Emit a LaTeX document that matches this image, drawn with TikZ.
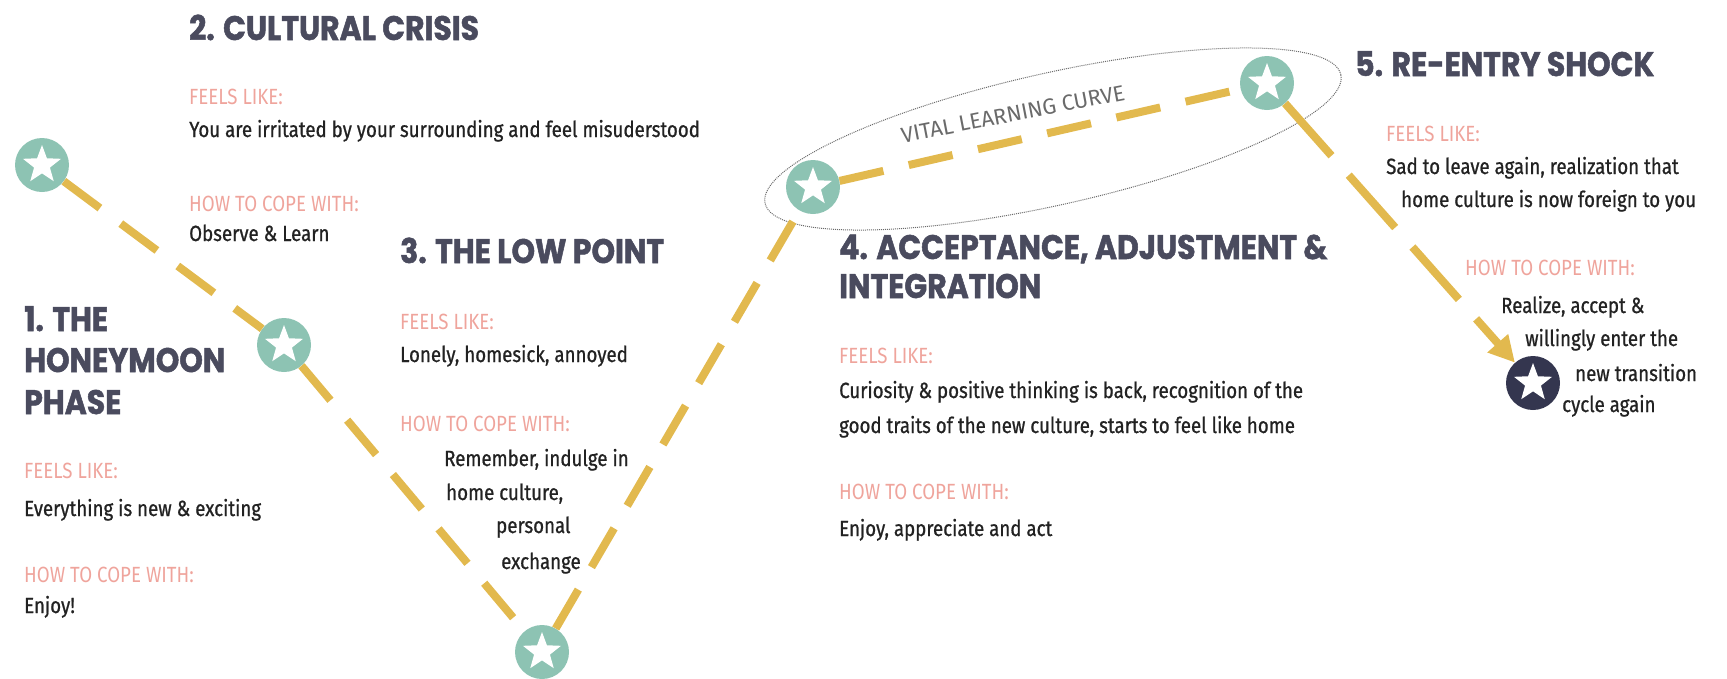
\documentclass[tikz,border=0pt]{standalone}
\usepackage{fontspec}
\usetikzlibrary{shapes.geometric,arrows.meta}
\newfontfamily\headfont{Poppins}[FakeStretch=0.88,FakeBold=1.5]
\newfontfamily\bodyfont{Fira Sans}[FakeStretch=0.85,FakeBold=0.8]
\newfontfamily\labfont{Fira Sans}[FakeStretch=0.85]
\newfontfamily\vlcfont{Fira Sans}
\definecolor{gold}{HTML}{E2B94E}
\definecolor{tealc}{HTML}{8DC3B3}
\definecolor{navyc}{HTML}{34364F}
\definecolor{headc}{HTML}{4A4B5E}
\definecolor{pinkc}{HTML}{EFA49C}
\definecolor{bodyc}{HTML}{222222}
\definecolor{grayc}{HTML}{6A6A6A}
\begin{document}
\begin{tikzpicture}[x=1pt,y=1pt,
  head/.style={anchor=base west, inner sep=0pt, font=\headfont\bfseries\fontsize{34}{40}\selectfont, text=headc},
  lab/.style={anchor=base west, inner sep=0pt, font=\labfont\fontsize{22}{26}\selectfont, text=pinkc},
  body/.style={anchor=base west, inner sep=0pt, font=\bodyfont\fontsize{22}{26}\selectfont, text=bodyc},
  stardot/.style={circle, fill=#1, minimum size=54pt, inner sep=0pt,
    path picture={\node[star, star points=5, star point ratio=2.4, fill=white, minimum size=40pt, inner sep=0pt] at (path picture bounding box.center) {};}},
  dashline/.style={draw=gold, line width=8pt, dash pattern=on 45pt off 26pt},
  ring/.style={draw=grayc, densely dotted, line width=1pt}
]
\useasboundingbox (0,0) rectangle (1727,-678);

% learning curve ellipse
\coordinate (ec) at (1053,-139);
\draw[ring, rotate around={12.6:(ec)}] (ec) ellipse [x radius=295pt, y radius=66pt];
\node[rotate=11, text=grayc, font=\vlcfont\fontsize{22}{24}\selectfont] (vlc) at (1013,-114) {VITAL LEARNING CURVE};

% stars
\node[stardot=tealc] (s1) at (42,-165) {};
\node[stardot=tealc] (s2) at (284,-345) {};
\node[stardot=tealc] (s3) at (542,-652) {};
\node[stardot=tealc] (s4) at (813,-187) {};
\node[stardot=tealc] (s5) at (1267,-83) {};
\node[stardot=navyc] (s6) at (1533,-383) {};

% connectors
\draw[dashline] (s1) -- (s2);
\draw[dashline] (s2) -- (s3);
\draw[dashline] (s3) -- (s4);
\draw[dashline] (s4) -- (s5);
\draw[dashline, dash pattern=on 70pt off 26pt, -{Triangle[length=26pt,width=26pt]}] (s5) -- (s6);

% 1
\node[head] (h1a) at (24,-331) {1. THE};
\node[head] (h1b) at (24,-372) {HONEYMOON};
\node[head] (h1c) at (24,-414) {PHASE};
\node[lab] (l1a) at (24,-478) {FEELS LIKE:};
\node[body] (b1a) at (24,-516) {Everything is new \& exciting};
\node[lab] (l1b) at (24,-582) {HOW TO COPE WITH:};
\node[body] (b1b) at (24,-613) {Enjoy!};

% 2
\node[head] (h2) at (189,-40) {2. CULTURAL CRISIS};
\node[lab] (l2a) at (189,-104) {FEELS LIKE:};
\node[body] (b2a) at (189,-137) {You are irritated by your surrounding and feel misuderstood};
\node[lab] (l2b) at (189,-211) {HOW TO COPE WITH:};
\node[body] (b2b) at (189,-241) {Observe \& Learn};

% 3
\node[head] (h3) at (400,-263) {3. THE LOW POINT};
\node[lab] (l3a) at (400,-329) {FEELS LIKE:};
\node[body] (b3a) at (400,-362) {Lonely, homesick, annoyed};
\node[lab] (l3b) at (400,-431) {HOW TO COPE WITH:};
\node[body] (b3b) at (444,-466) {Remember, indulge in};
\node[body] (b3c) at (446,-500) {home culture,};
\node[body] (b3d) at (496,-533) {personal};
\node[body] (b3e) at (501,-569) {exchange};

% 4
\node[head] (h4a) at (839,-259) {4. ACCEPTANCE, ADJUSTMENT \&};
\node[head] (h4b) at (839,-298) {INTEGRATION};
\node[lab] (l4a) at (839,-363) {FEELS LIKE:};
\node[body] (b4a) at (839,-398) {Curiosity \& positive thinking is back, recognition of the};
\node[body] (b4b) at (839,-433) {good traits of the new culture, starts to feel like home};
\node[lab] (l4b) at (839,-499) {HOW TO COPE WITH:};
\node[body] (b4c) at (839,-536) {Enjoy, appreciate and act};

% 5
\node[head] (h5) at (1355,-76) {5. RE-ENTRY SHOCK};
\node[lab] (l5a) at (1386,-141) {FEELS LIKE:};
\node[body] (b5a) at (1386,-174) {Sad to leave again, realization that};
\node[body] (b5b) at (1401,-207) {home culture is now foreign to you};
\node[lab] (l5b) at (1465,-275) {HOW TO COPE WITH:};
\node[body] (b5c) at (1501,-313) {Realize, accept \&};
\node[body] (b5d) at (1525,-346) {willingly enter the};
\node[body] (b5e) at (1575,-381) {new transition};
\node[body] (b5f) at (1562,-412) {cycle again};
\end{tikzpicture}
\end{document}
